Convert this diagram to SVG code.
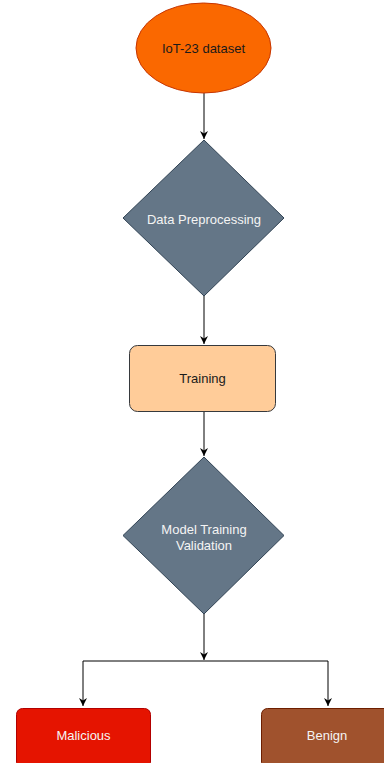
<svg xmlns="http://www.w3.org/2000/svg" width="384" height="763" viewBox="0 0 384 763">
  <style>
    .lbl { font-family: "Liberation Sans", Arial, sans-serif; font-size: 13px; text-anchor: middle; dominant-baseline: central; }
    .dark { fill: #1a1a1a; }
    .light { fill: #f4f4f4; }
    .edge { stroke: #000000; stroke-width: 1; fill: none; }
  </style>
  <defs>
    <marker id="arrow" viewBox="0 0 10 10" refX="10" refY="5" markerWidth="8" markerHeight="8" markerUnits="userSpaceOnUse" orient="auto">
      <path d="M0,0 L10,5 L0,10 L3,5 Z" fill="#000000"/>
    </marker>
  </defs>

  <rect width="384" height="763" fill="#ffffff"/>

  <!-- connectors -->
  <g id="edges">
    <path class="edge" d="M204,93 V139" marker-end="url(#arrow)"/>
    <path class="edge" d="M204,296 V344" marker-end="url(#arrow)"/>
    <path class="edge" d="M204,412 V456" marker-end="url(#arrow)"/>
    <path class="edge" d="M204,614 V660" marker-end="url(#arrow)"/>
    <path class="edge" d="M83,661 H328"/>
    <path class="edge" d="M83,661 V706" marker-end="url(#arrow)"/>
    <path class="edge" d="M328,661 V706" marker-end="url(#arrow)"/>
  </g>

  <!-- nodes -->
  <g id="dataset">
    <ellipse cx="203.5" cy="48" rx="67.5" ry="45" fill="#fa6800" stroke="#c73500"/>
    <text class="lbl dark" x="203.5" y="48">IoT-23 dataset</text>
  </g>

  <g id="preprocessing">
    <polygon points="204,140 284,218 204,296 123,218" fill="#647687" stroke="#314354"/>
    <text class="lbl light" x="204" y="219">Data Preprocessing</text>
  </g>

  <g id="training">
    <rect x="129.5" y="345.5" width="146" height="66" rx="8" fill="#ffcc99" stroke="#36393d"/>
    <text class="lbl dark" x="202.5" y="378">Training</text>
  </g>

  <g id="validation">
    <polygon points="204,457 284,535.5 204,614 123,535.5" fill="#647687" stroke="#314354"/>
    <text class="lbl light" x="204" y="529">Model Training</text>
    <text class="lbl light" x="204" y="545">Validation</text>
  </g>

  <g id="malicious">
    <rect x="16.5" y="708.5" width="134" height="60" rx="6" fill="#e51400" stroke="#b20000"/>
    <text class="lbl light" x="83.5" y="735">Malicious</text>
  </g>

  <g id="benign">
    <rect x="261.5" y="708.5" width="134" height="60" rx="6" fill="#a0522d" stroke="#6d1f00"/>
    <text class="lbl light" x="327" y="735">Benign</text>
  </g>
</svg>
